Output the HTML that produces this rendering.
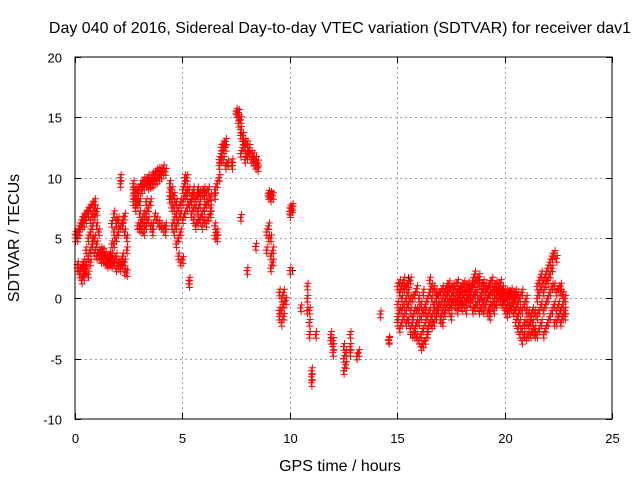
<!DOCTYPE html>
<html><head><meta charset="utf-8"><style>
body{margin:0;background:#fff}
svg{display:block;font-family:"Liberation Sans",sans-serif;font-size:13px}
</style></head><body>
<svg id="chart" width="640" height="480" viewBox="0 0 640 480" xmlns="http://www.w3.org/2000/svg">
<text x="340" y="33" text-anchor="middle" fill="#000" style="font-size:16px">Day 040 of 2016, Sidereal Day-to-day VTEC variation (SDTVAR) for receiver dav1</text>
<g id="grid"></g>
<g id="ticks"></g>
<g id="blackpts"></g>
<g id="redpts"></g>
<rect x="75" y="57" width="537" height="362" fill="none" stroke="#000" stroke-width="1"/>
<text x="340" y="471" text-anchor="middle" style="font-size:16px">GPS time / hours</text>
<text x="0" y="0" text-anchor="middle" transform="translate(19,238) rotate(-90)" style="font-size:16px">SDTVAR / TECUs</text>
</svg>
<script>
const xTicks=[0,5,10,15,20,25];
const yTicks=[-10,-5,0,5,10,15,20];
const redData="0.0:5,5.3;0.1:2.5,5,5.5,2.8;0.2:2.3,5.5,6,2;0.3:2.6,6,6.5,1.5;0.4:2.2,6.2,6.8,3,1.8;0.5:2.8,4,6.5,7,2.4;0.6:3.5,5,7,7.3,2;0.7:4,5.5,6.5,7.5,3;0.8:4.5,6,7,7.8,5;0.9:3.8,5,6.8,7.5,8;1.0:3.5,4.5,6,7.2;1.1:3.5,3.8,5.5;1.2:3.2,3.8,4;1.3:3.5,3.9,3.3;1.4:3.6,3.2,3;1.5:3.4,3,2.8;1.6:3.3,2.9,3.6;1.7:3,3.5,4.5,6.2,2.8;1.8:3.2,4.5,5.5,7,3;1.9:2.5,3.5,5,6.2,6.5;2.0:2.7,3,5.5,6.5;2.1:2.5,3,6,10,9.5;2.2:2.8,3.5,6.5,6;2.3:2.2,3,6.8,5.5;2.4:2.1,4,5;2.7:8.5,9,9.5,8;2.8:8,8.5,9,7.5;2.9:7.8,8.3,9,6;3.0:6,7,8,9.2,5.8;3.1:5.7,6.5,9,9.5;3.2:5.5,6.3,7,9.3,9.8;3.3:6,7,8,9.5,9.7;3.4:6.5,7.5,9.3,10;3.5:6,8,9.4,9.8;3.6:5.5,6,9.5,10.2;3.7:6.8,9.7,10.3;3.8:6.5,9.8,10.5;3.9:6.2,10,10.6;4.0:6,10.2,10.5;4.1:5.8,10.5,10.8;4.2:6,5.5,10.5;4.4:8.8,9.5,8.2;4.5:7.5,8.3,9,6;4.6:6.5,7.5,8.5,5.5;4.7:6,7,8,4.5;4.8:5,6.5,7.5,3.5;4.9:3,5.5,7,8;5.0:3.2,6.5,8,9;5.1:7,8.5,9.5,10;5.2:7.5,8.5,10,9;5.3:1.5,1.2,7.8,9;5.4:7,8,8.5;5.5:6.5,7.5,8.5,9;5.6:6,7.5,8.3;5.7:6.3,7.2,8.5,9;5.8:6.5,7.8,8.7;5.9:6,7,8.8;6.0:6.5,7.5,8.5,9;6.1:6.2,7.8,8.8;6.2:6.7,8,9;6.3:7,7.5,8.4;6.5:5.2,6,8.5,9;6.6:5,5.5,9.5;6.7:10,11,11.5;6.8:11.5,12,12.5;6.9:11.5,12.3,12.8;7.0:11,12.5,13;7.1:11.2;7.3:11.3,11;7.5:15.5,15.3;7.6:15.4,15,14.5;7.7:14.8,14,13.5,6.7,12;7.8:13.5,13,12.5;7.9:13,12.5,11.5;8.0:12.8,12,11.8,2.3;8.1:12.5,12;8.2:12,11.5;8.3:11.8,11.3;8.4:11.5,11,4.3;8.5:11.2,10.8;8.9:4,5.5;9.0:8.7,8.5,6,5;9.1:8.6,8.3,5,3.5,2.5;9.2:8.5,4,3;9.5:0.5,-1,-1.5;9.6:0,-1,-2;9.7:0.5,-1.5,-0.5;9.8:-0.2;10.0:7.2,7.5,2.3,7;10.1:7.4,7.6;10.5:-0.8;10.8:1,0,-1;10.9:-1,-2,-3;11.0:-6,-6.5,-7;11.2:-3;11.9:-3,-3.5;12.0:-3.5,-4,-4.5;12.5:-4,-5,-6;12.6:-5.5,-4.5;12.8:-3,-4,-4.5;13.1:-4.8;13.2:-4.5;14.2:-1.3;14.6:-3.4,-3.5;15.0:-2,-0.5,1,-1.5;15.1:-2.5,-1,0.5,1.3;15.2:-2,0,1,-1;15.3:-1.5,-0.5,0.8,1.5;15.4:-1,0,1,-2;15.5:-0.5,0.5,1.2,-1.8;15.6:-1,0,1.5,-2.5;15.7:-3,-1.5,0,-2;15.8:-2.5,-1,0.3,-3;15.9:-2,-1,0.8,-3.2;16.0:-3.5,-2,-1,0;16.1:-4,-3,-1.5,-0.5;16.2:-3.8,-2.5,-1,0.5;16.3:-3.5,-2,-0.5,-1.2;16.4:-3,-1.5,0,-2.5;16.5:-1,0.5,1.5,-2;16.6:-1.5,0,1,-2.2;16.7:-2,-0.5,0.8,-1;16.8:-1.5,0,0.5,-1;16.9:-1,-0.5,0.3;17.0:-1.5,-0.5,0.5,-1.8;17.1:-1,0,0.8,-2;17.2:-1.2,-0.3,0.5;17.3:-0.5,0.3,1;17.4:-0.3,0.5,1.2,-1;17.5:-0.5,0,0.8,-1.5;17.6:-0.3,0.5,1;17.7:-0.6,0.2,1;17.8:-0.2,0.5,1.3,-1;17.9:-0.5,0.3,0.8;18.0:-0.2,0.5,1,-0.8;18.1:-0.5,0.3,1.2;18.2:-0.3,0.5,0.9,-1;18.3:0,0.6,1.1;18.4:-0.4,0.3,0.8;18.5:-1,0,1,1.5;18.6:-0.8,0.3,1.2,2;18.7:-0.5,0.5,1.5;18.8:-1,0,1.3,1.8;18.9:-0.8,0.2,1;19.0:-1,-0.2,0.8,1.3;19.1:-0.5,0.5,1;19.2:-1.2,0,0.8;19.3:-0.8,0.3,1.2,-1.5;19.4:-0.5,0.5,1.5;19.5:-0.3,0.5,1,-1;19.6:-0.5,0.3,1.2;19.7:0,0.6,1;19.8:-0.3,0.4,1.3;19.9:-0.5,0.2,0.8;20.0:-1,-0.2,0.5;20.1:-0.8,0,0.5,-1.3;20.2:-1,-0.3,0.4;20.3:-0.6,0.2,0.6;20.4:-1.2,-0.4,0.3;20.5:-2,-1,0,0.5;20.6:-2.5,-1.5,-0.5,0.3;20.7:-3,-2,-1,0;20.8:-3.5,-2.5,-1,0.5;20.9:-3,-2,-0.5;21.0:-3.2,-2,-1,0;21.1:-3,-2.2,-1.2;21.2:-3,-2,-1.5;21.3:-2.8,-2,-1;21.4:-3,-2.5,-1.2;21.5:-3,-1.5,0,1;21.6:-2.5,-1,0.5,1.5;21.7:-2,-0.5,1,2;21.8:-3,-1,0.5,1.5;21.9:-2.5,-0.5,1.2,2;22.0:-2,0,1.5,2.5;22.1:-1.5,0.5,2,3;22.2:-1,1,2.5,3.5;22.3:-2,-0.5,1,3.7;22.4:-2,-1,0.5,3.3;22.5:-1.5,-0.5,0.8;22.6:-2,-1,0.5,1;22.7:-1.5,-0.5,0.3;22.8:-1,0,-1.5";
const blackData="15.5:1.7;15.6:-3;10.1:2.3";
const ns="http://www.w3.org/2000/svg";
const X0=75,X1=612,Y0=419,Y1=57;
function xs(t){return X0+(t-0)/(25-0)*(X1-X0);}
function ys(v){return Y0-(v-(-10))/(20-(-10))*(Y0-Y1);}
function parse(s){const out=[];s.split(';').forEach(g=>{const [t,vs]=g.split(':');vs.split(',').forEach(v=>out.push([+t,+v]));});return out;}
const grid=document.getElementById('grid'),ticks=document.getElementById('ticks'),svg=document.getElementById('chart');
function line(p,x1,y1,x2,y2,st,dash){const l=document.createElementNS(ns,'line');l.setAttribute('x1',x1);l.setAttribute('y1',y1);l.setAttribute('x2',x2);l.setAttribute('y2',y2);l.setAttribute('stroke',st);if(dash)l.setAttribute('stroke-dasharray',dash);p.appendChild(l);return l;}
xTicks.forEach(t=>{const x=Math.round(xs(t))+0.5;
 if(t>0&&t<25){const g=line(grid,x,Y1,x,Y0,'#a0a0a0','2,3');
 
 }
 line(ticks,x,Y0,x,Y0-6,'#000');line(ticks,x,Y1,x,Y1+6,'#000');
 const tx=document.createElementNS(ns,'text');tx.setAttribute('x',x);tx.setAttribute('y',443);tx.setAttribute('text-anchor','middle');tx.textContent=t;
 
 
 svg.appendChild(tx);});
yTicks.forEach(v=>{const y=Math.round(ys(v))+0.5;
 if(v>-10&&v<20){const g=line(grid,X0,y,X1,y,'#a0a0a0','2,3');
 
 }
 line(ticks,X0,y,X0+6,y,'#000');line(ticks,X1,y,X1-6,y,'#000');
 const tx=document.createElementNS(ns,'text');tx.setAttribute('x',62);tx.setAttribute('y',y+5);tx.setAttribute('text-anchor','end');tx.textContent=v;
 
 
 svg.appendChild(tx);});
function plus(g,t,v,col,name){const x=xs(t),y=ys(v);const p=document.createElementNS(ns,'path');
 p.setAttribute('d',`M${x-3.5} ${y}H${x+3.5}M${x} ${y-3.5}V${y+3.5}`);p.setAttribute('stroke',col);p.setAttribute('stroke-width','1');
 
 
 g.appendChild(p);}
parse(blackData).forEach(([t,v])=>plus(document.getElementById('blackpts'),t+0.03,v,'#000','black-point'));
const rg=document.getElementById('redpts');
parse(redData).forEach(([t,v])=>{plus(rg,t,v,'#f00','red-point');plus(rg,t+0.05,v+0.25,'#f00','red-point');plus(rg,t+0.03,v-0.3,'#f00','red-point');});
</script>
</body></html>
